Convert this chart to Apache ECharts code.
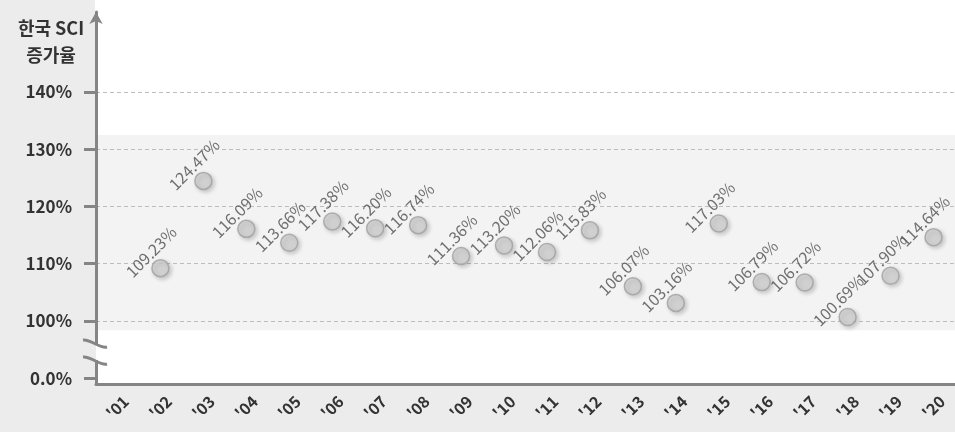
<!DOCTYPE html>
<html>
<head>
<meta charset="utf-8">
<script src="https://cdn.jsdelivr.net/npm/echarts@6/dist/echarts.min.js"></script>
<style>
html,body{margin:0;padding:0;background:#ececec;}
#chart{width:955px;height:432px;}
</style>
</head>
<body>
<div id="chart"></div>
<script>
// ---- data ----
const years = ["'01","'02","'03","'04","'05","'06","'07","'08","'09","'10","'11","'12","'13","'14","'15","'16","'17","'18","'19","'20"];
const growthRates = [null,109.23,124.47,116.09,113.66,117.38,116.20,116.74,111.36,113.20,112.06,115.83,106.07,103.16,117.03,106.79,106.72,100.69,107.90,114.64];
const yTickValues = [90,100,110,120,130,140];   // 90 stands for the broken-axis "0.0%" tick
const yTickLabels = ['0.0%','100%','110%','120%','130%','140%'];
const bandRange = [98.4, 132.5];
const axisTitle = '한국 SCI\n증가율';

// ---- layout / style ----
const FONT = "'Noto Sans CJK KR','Noto Sans',sans-serif";
const GRID_LEFT = 96, GRID_TOP = 12, GRID_BOTTOM = 48;
const AXIS_COLOR = '#858585';

const chart = echarts.init(document.getElementById('chart'));
const option = {
  backgroundColor: '#ececec',
  animation: false,
  title: {
    text: axisTitle,
    left: 46, top: 10, textAlign: 'center',
    textStyle: {fontFamily: FONT, fontSize: 18, fontWeight: 'bold', color: '#333', lineHeight: 27}
  },
  grid: {left: GRID_LEFT, right: 0, top: GRID_TOP, bottom: GRID_BOTTOM, show: true, backgroundColor: '#ffffff', borderWidth: 0, z: -3},
  xAxis: {
    type: 'category', data: years, boundaryGap: true, z: 1,
    axisLine: {lineStyle: {color: AXIS_COLOR, width: 3}},
    axisTick: {show: false},
    axisLabel: {rotate: 45, align: 'center', verticalAlign: 'middle', margin: 23, interval: 0,
      fontFamily: FONT, fontSize: 16, fontWeight: 'bold', color: '#333'}
  },
  yAxis: {
    type: 'value', min: 88.99, max: 153.97, z: 1,
    axisLine: {show: true, lineStyle: {color: AXIS_COLOR, width: 3}, symbol: ['none','arrow'], symbolSize: [10, 12]},
    axisTick: {show: true, length: 12, lineStyle: {color: AXIS_COLOR, width: 3}, customValues: yTickValues},
    axisLabel: {customValues: yTickValues, margin: 24, fontFamily: FONT, fontSize: 17, fontWeight: 'bold', color: '#333',
      formatter: v => { const i = yTickValues.indexOf(v); return i >= 0 ? yTickLabels[i] : ''; }},
    splitLine: {show: true, lineStyle: {color: ['rgba(0,0,0,0)','#bdbdbd','#bdbdbd','#bdbdbd','#bdbdbd','#bdbdbd'], type: [4,3], width: 1}}
  },
  series: [{
    type: 'line',
    data: [],
    z: -2,
    silent: true,
    markArea: {
      silent: true,
      z: -2,
      itemStyle: {color: '#f3f3f3'},
      data: [[{yAxis: bandRange[0]}, {yAxis: bandRange[1]}]]
    }
  }, {
    type: 'scatter',
    data: growthRates,
    symbolSize: 17,
    itemStyle: {color: '#d2d2d2', borderColor: '#a0a0a0', borderWidth: 1.5,
      shadowBlur: 4, shadowColor: 'rgba(0,0,0,0.22)', shadowOffsetX: 2, shadowOffsetY: 2},
    label: {
      show: true, position: 'inside', rotate: 45, offset: [5, -18],
      align: 'center', verticalAlign: 'middle',
      fontFamily: FONT, fontSize: 16, color: '#4d4d4d',
      formatter: p => p.value.toFixed(2) + '%'
    },
    z: 3
  }]
};
chart.setOption(option);

// decorations: white top strip and the axis-break marks
const yTop = chart.convertToPixel({yAxisIndex: 0}, 95.97);
const yBot = chart.convertToPixel({yAxisIndex: 0}, 93.0);
function breakMark(yc) {
  return {type: 'bezierCurve', z: 10, silent: true,
    shape: {x1: GRID_LEFT - 13, y1: yc - 4, cpx1: GRID_LEFT - 5, cpy1: yc - 5, cpx2: GRID_LEFT + 4, cpy2: yc + 5, x2: GRID_LEFT + 11, y2: yc + 3},
    style: {stroke: AXIS_COLOR, lineWidth: 3, fill: null}};
}
chart.setOption({
  graphic: [
    {type: 'rect', z: -5, silent: true, shape: {x: GRID_LEFT - 1, y: 0, width: 955, height: GRID_TOP}, style: {fill: '#ffffff'}},
    {type: 'rect', z: 9, silent: true, shape: {x: GRID_LEFT - 3, y: yTop + 1, width: 3, height: yBot - yTop - 2}, style: {fill: '#ececec'}},
    {type: 'rect', z: 9, silent: true, shape: {x: GRID_LEFT, y: yTop + 1, width: 3, height: yBot - yTop - 2}, style: {fill: '#ffffff'}},
    breakMark(yTop),
    breakMark(yBot)
  ]
});
</script>
</body>
</html>
